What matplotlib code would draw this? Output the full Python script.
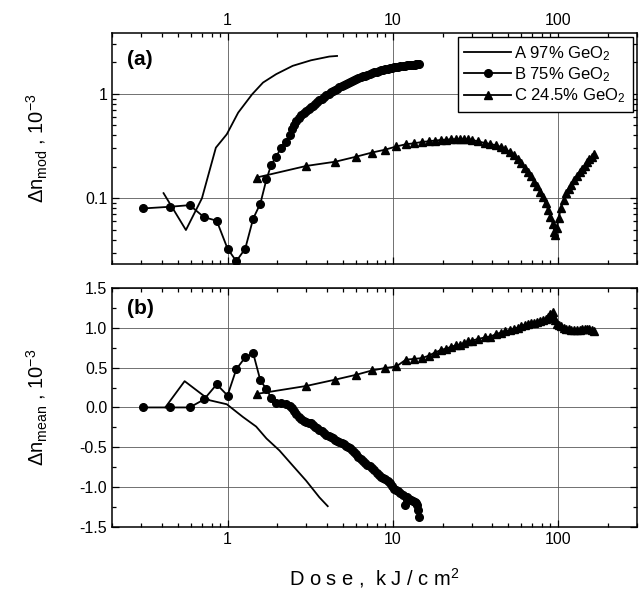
import matplotlib
matplotlib.use('Agg')
from matplotlib import pyplot as plt
from matplotlib.ticker import LogLocator, NullFormatter, FixedLocator, MultipleLocator, FormatStrFormatter

plt.rcParams['font.family'] = ['Liberation Sans', 'DejaVu Sans']
plt.rcParams['mathtext.default'] = 'regular'
plt.rcParams['axes.unicode_minus'] = False

##################################################
# Data
##################################################
# sample A, 97% GeO2 (plain line)
a_dose_mod = [0.41, 0.56, 0.70, 0.85, 0.99, 1.16, 1.41, 1.64, 1.97, 2.48, 3.2, 4.13, 4.6]
a_mod = [0.112, 0.0497, 0.10, 0.305, 0.41, 0.66, 0.99, 1.28, 1.54, 1.85, 2.09, 2.27, 2.30]
a_dose_mean = [0.42, 0.55, 0.78, 0.99, 1.24, 1.49, 1.72, 2.06, 2.48, 2.99, 3.6, 4.04]
a_mean = [0.0, 0.33, 0.09, 0.04, -0.12, -0.24, -0.39, -0.54, -0.73, -0.92, -1.13, -1.24]

# sample B, 75% GeO2 (circles)
b_dose = [0.31, 0.45, 0.59, 0.72, 0.86, 1.0, 1.13, 1.28, 1.43, 1.58, 1.72, 1.84,
          1.97, 2.11, 2.25, 2.39, 2.45, 2.52, 2.6, 2.7, 2.8, 2.9, 3.0, 3.1, 3.2,
          3.3, 3.4, 3.5, 3.6, 3.72, 3.85, 3.97, 4.1, 4.22, 4.35, 4.48, 4.6, 4.75,
          4.9, 5.05, 5.2, 5.35, 5.5, 5.65, 5.8, 6.0, 6.2, 6.4, 6.6, 6.8, 7.0, 7.25,
          7.5, 7.75, 8.0, 8.25, 8.5, 8.75, 9.0, 9.3, 9.6, 9.9, 10.2, 10.5, 10.8,
          11.1, 11.5, 11.8, 12.2, 12.5, 12.9, 13.2, 13.6, 13.9, 14.1, 14.3, 14.5]
b_mod = [0.080, 0.083, 0.086, 0.066, 0.061, 0.033, 0.025, 0.033, 0.064, 0.089,
         0.152, 0.21, 0.25, 0.305, 0.345, 0.40, 0.46, 0.50, 0.55, 0.58, 0.62,
         0.65, 0.685, 0.71, 0.74, 0.77, 0.80, 0.835, 0.87, 0.90, 0.93, 0.965,
         1.00, 1.03, 1.06, 1.09, 1.12, 1.155, 1.19, 1.22, 1.25, 1.275, 1.30,
         1.325, 1.35, 1.38, 1.41, 1.44, 1.47, 1.495, 1.52, 1.55, 1.58, 1.605,
         1.63, 1.655, 1.68, 1.695, 1.71, 1.73, 1.75, 1.77, 1.79, 1.805, 1.82,
         1.835, 1.85, 1.86, 1.87, 1.88, 1.89, 1.895, 1.90, 1.905, 1.91, 1.915, 1.92]
b_mean = [0.0, 0.0, 0.0, 0.10, 0.29, 0.15, 0.48, 0.63, 0.68, 0.34, 0.23, 0.12,
          0.06, 0.05, 0.04, 0.02, -0.01, -0.04, -0.08, -0.12, -0.15, -0.17, -0.18,
          -0.19, -0.20, -0.22, -0.24, -0.26, -0.28, -0.30, -0.32, -0.34, -0.36,
          -0.375, -0.39, -0.405, -0.42, -0.435, -0.45, -0.465, -0.48, -0.495,
          -0.51, -0.535, -0.56, -0.59, -0.62, -0.645, -0.67, -0.695, -0.72, -0.74,
          -0.76, -0.79, -0.82, -0.845, -0.87, -0.885, -0.90, -0.925, -0.95,
          -0.985, -1.02, -1.035, -1.05, -1.075, -1.10, -1.22, -1.13, -1.145,
          -1.16, -1.175, -1.19, -1.205, -1.22, -1.29, -1.38]

# sample C, 24.5% GeO2 (triangles)
c_dose = [1.5, 3, 4.5, 6, 7.5, 9, 10.5, 12, 13.5, 15, 16.5, 18, 19.5, 21, 22.5,
          24, 25.5, 27, 28.5, 30, 33, 36, 39, 42, 45, 48, 51, 54, 57, 60, 63, 66,
          69, 72, 75, 78, 81, 84, 87, 90, 93, 95, 96, 98, 101, 104, 108, 112, 116,
          120, 125, 130, 135, 140, 145, 150, 155, 160, 165]
c_mod = [0.158, 0.204, 0.224, 0.250, 0.274, 0.292, 0.313, 0.329, 0.336, 0.346,
         0.351, 0.357, 0.361, 0.364, 0.366, 0.368, 0.369, 0.368, 0.366, 0.362,
         0.350, 0.338, 0.330, 0.322, 0.310, 0.295, 0.277, 0.258, 0.240, 0.218,
         0.197, 0.180, 0.162, 0.144, 0.130, 0.115, 0.102, 0.090, 0.078, 0.066,
         0.057, 0.048, 0.045, 0.052, 0.065, 0.080, 0.096, 0.112, 0.122, 0.133,
         0.148, 0.163, 0.178, 0.192, 0.204, 0.220, 0.236, 0.250, 0.264]
c_mean = [0.17, 0.27, 0.35, 0.41, 0.465, 0.495, 0.515, 0.60, 0.61, 0.62, 0.65,
          0.69, 0.72, 0.74, 0.76, 0.78, 0.79, 0.81, 0.83, 0.84, 0.86, 0.88, 0.89,
          0.92, 0.94, 0.96, 0.97, 0.99, 1.00, 1.02, 1.04, 1.05, 1.06, 1.065, 1.07,
          1.08, 1.10, 1.11, 1.14, 1.17, 1.20, 1.12, 1.10, 1.05, 1.04, 1.02, 1.00,
          0.99, 0.985, 0.975, 0.97, 0.97, 0.975, 0.98, 0.98, 0.985, 0.98, 0.97,
          0.955]

labels = ['A 97% GeO$_2$', 'B 75% GeO$_2$', 'C 24.5% GeO$_2$']

##################################################
# Figure
##################################################
fig = plt.figure(figsize=(6.42, 5.92), dpi=100)
ax1 = fig.add_axes([0.1745, 0.554, 0.8175, 0.390])
ax2 = fig.add_axes([0.1745, 0.110, 0.8175, 0.4035])

lw = 1.3
ms = 5.5
ax1.plot(a_dose_mod, a_mod, '-', color='k', lw=lw, label=labels[0])
ax1.plot(b_dose, b_mod, '-o', color='k', lw=lw, ms=ms, label=labels[1])
ax1.plot(c_dose, c_mod, '-^', color='k', lw=lw, ms=ms + 0.5, label=labels[2])

ax2.plot(a_dose_mean, a_mean, '-', color='k', lw=lw)
ax2.plot(b_dose, b_mean, '-o', color='k', lw=lw, ms=ms)
ax2.plot(c_dose, c_mean, '-^', color='k', lw=lw, ms=ms + 0.5)

for ax in (ax1, ax2):
    ax.set_xscale('log')
    ax.set_xlim(0.2, 300)
    ax.xaxis.set_major_locator(FixedLocator([1, 10, 100]))
    ax.xaxis.set_major_formatter(FormatStrFormatter('%g'))
    ax.xaxis.set_minor_locator(LogLocator(base=10, subs=range(2, 10), numticks=20))
    ax.xaxis.set_minor_formatter(NullFormatter())
    ax.tick_params(which='both', direction='in', top=True, right=True,
                   labelsize=11.5, width=0.9)
    ax.tick_params(which='major', length=5)
    ax.tick_params(which='minor', length=3)
    ax.grid(which='major', color='0.35', lw=0.6)
    for s in ax.spines.values():
        s.set_linewidth(1.1)

ax1.set_yscale('log')
ax1.set_ylim(0.0235, 3.8)
ax1.yaxis.set_major_locator(FixedLocator([0.1, 1]))
ax1.yaxis.set_major_formatter(FormatStrFormatter('%g'))
ax1.yaxis.set_minor_locator(LogLocator(base=10, subs=range(2, 10), numticks=20))
ax1.yaxis.set_minor_formatter(NullFormatter())
ax1.tick_params(labelbottom=False, labeltop=True)

ax2.set_ylim(-1.5, 1.5)
ax2.yaxis.set_major_locator(MultipleLocator(0.5))
ax2.yaxis.set_minor_locator(MultipleLocator(0.25))
ax2.yaxis.set_major_formatter(FormatStrFormatter('%.1f'))

ax1.set_ylabel(r'$\Delta n_{mod}$ , $10^{-3}$', fontsize=14.5)
ax2.set_ylabel(r'$\Delta n_{mean}$ , $10^{-3}$', fontsize=14.5)
ax1.yaxis.set_label_coords(-0.118, 0.5)
ax2.yaxis.set_label_coords(-0.118, 0.5)
ax2.set_xlabel('D o s e ,  k J / c m$^2$', fontsize=14.5, labelpad=14)

ax1.text(0.028, 0.925, '(a)', transform=ax1.transAxes, fontsize=15,
         fontweight='bold', va='top')
ax2.text(0.028, 0.955, '(b)', transform=ax2.transAxes, fontsize=15,
         fontweight='bold', va='top')

leg = ax1.legend(loc='upper right', fontsize=12, frameon=True, fancybox=False,
                 handlelength=2.8, handletextpad=0.2, labelspacing=0.15,
                 borderpad=0.4, borderaxespad=0.25, framealpha=1)
leg.get_frame().set_edgecolor('k')
leg.get_frame().set_linewidth(1.0)

fig.savefig('out.png', dpi=100)
